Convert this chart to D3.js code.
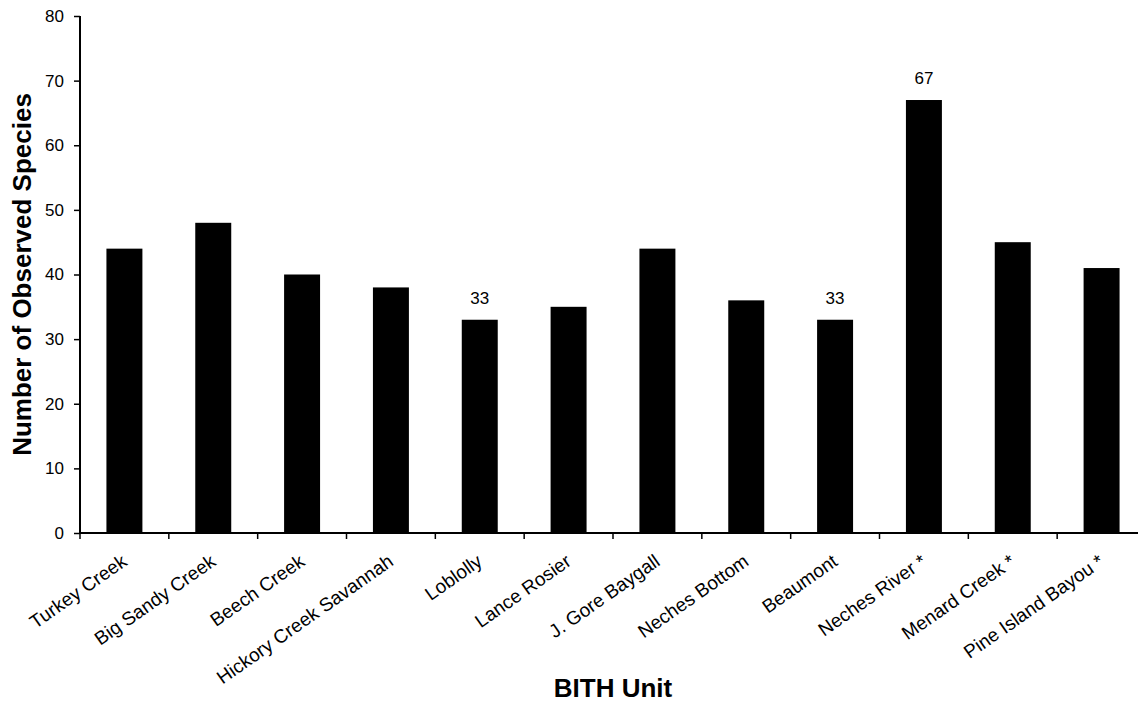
<!DOCTYPE html>
<html>
<head>
<meta charset="utf-8">
<script src="https://cdn.jsdelivr.net/npm/d3@7"></script>
<style>
  html, body { margin: 0; padding: 0; background: #fff; }
  svg { display: block; font-family: "Liberation Sans", Arial, sans-serif; }
</style>
</head>
<body>
<svg id="chart" width="1138" height="703"></svg>
<script>
const categories = ["Turkey Creek", "Big Sandy Creek", "Beech Creek", "Hickory Creek Savannah",
  "Loblolly", "Lance Rosier", "J. Gore Baygall", "Neches Bottom", "Beaumont",
  "Neches River *", "Menard Creek *", "Pine Island Bayou *"];
const speciesCounts = [44, 48, 40, 38, 33, 35, 44, 36, 33, 67, 45, 41];
const labeledIndices = [4, 8, 9];
const yTicks = [0, 10, 20, 30, 40, 50, 60, 70, 80];
const yTitle = "Number of Observed Species";
const xTitle = "BITH Unit";

const svg = d3.select("#chart");
const mLeft = 80, mRight = 1146, mTop = 16, mBottom = 533;

const x = d3.scaleBand().domain(categories).range([mLeft, mRight])
  .paddingInner(0.595).paddingOuter(0.2975);
const y = d3.scaleLinear().domain([0, 80]).range([mBottom, mTop]);
const step = x.step();

// bars
svg.append("g").selectAll("rect").data(categories).join("rect")
  .attr("x", d => x(d))
  .attr("width", x.bandwidth())
  .attr("y", (d, i) => y(speciesCounts[i]))
  .attr("height", (d, i) => y(0) - y(speciesCounts[i]))
  .attr("fill", "#000");

// value labels
svg.append("g").selectAll("text").data(labeledIndices).join("text")
  .attr("x", i => x(categories[i]) + x.bandwidth() / 2)
  .attr("y", i => y(speciesCounts[i]) - 16)
  .attr("text-anchor", "middle")
  .attr("font-size", 17)
  .text(i => speciesCounts[i]);

// y axis
const yAxis = svg.append("g").attr("transform", `translate(${mLeft},0)`)
  .call(d3.axisLeft(y).tickValues(yTicks).tickSize(6).tickPadding(10));
yAxis.select(".domain").attr("stroke", "#000").attr("stroke-width", 2).attr("d", `M0,${mBottom}V${mTop}`);
yAxis.selectAll(".tick line").attr("stroke", "#000").attr("stroke-width", 1.5);
yAxis.selectAll(".tick text").attr("font-size", 17).attr("fill", "#000")
  .attr("font-family", "Liberation Sans, Arial, sans-serif");

// x axis line and boundary ticks
const xg = svg.append("g");
xg.append("line").attr("x1", mLeft).attr("x2", mRight).attr("y1", mBottom).attr("y2", mBottom)
  .attr("stroke", "#000").attr("stroke-width", 2);
const boundaries = d3.range(categories.length + 1).map(i => mLeft + i * step);
xg.selectAll("line.tk").data(boundaries).join("line").attr("class", "tk")
  .attr("x1", d => d).attr("x2", d => d).attr("y1", mBottom).attr("y2", mBottom + 6)
  .attr("stroke", "#000").attr("stroke-width", 1.5);

// x labels
xg.selectAll("text.cat").data(categories).join("text").attr("class", "cat")
  .attr("transform", d => `translate(${x(d) + x.bandwidth() / 2 - 4},${mBottom + 20}) rotate(-35)`)
  .attr("text-anchor", "end")
  .attr("dy", "0.72em")
  .attr("font-size", 19)
  .text(d => d);

// titles
svg.append("text")
  .attr("transform", `translate(31,${(mTop + mBottom) / 2}) rotate(-90)`)
  .attr("text-anchor", "middle")
  .attr("font-size", 26).attr("font-weight", "bold")
  .text(yTitle);
svg.append("text")
  .attr("x", (mLeft + mRight) / 2).attr("y", 697)
  .attr("text-anchor", "middle")
  .attr("font-size", 26).attr("font-weight", "bold")
  .text(xTitle);
</script>
</body>
</html>
